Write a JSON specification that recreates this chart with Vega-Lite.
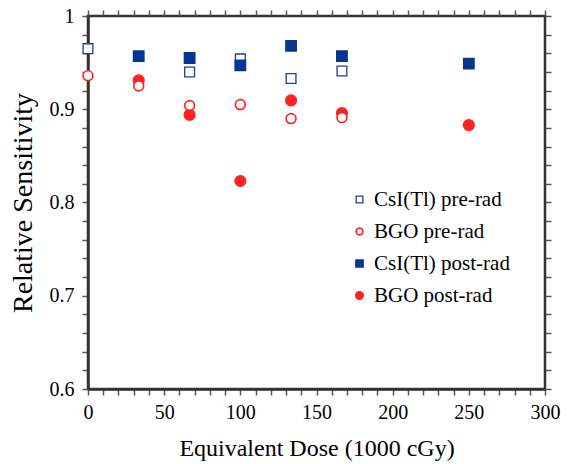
{
  "$schema": "https://vega.github.io/schema/vega-lite/v6.json",
  "width": 457,
  "height": 373,
  "autosize": "none",
  "padding": {"left": 88, "top": 16, "right": 25, "bottom": 75},
  "background": "white",
  "config": {
    "font": "Liberation Serif",
    "view": {"stroke": "#333333", "strokeWidth": 2.5},
    "axis": {
      "zindex": 1,
      "domainColor": "#333333",
      "domainWidth": 2.5,
      "tickColor": "#555555",
      "tickWidth": 1.5,
      "tickSize": 6,
      "grid": false,
      "labelFont": "Liberation Serif",
      "labelFontSize": 20,
      "labelColor": "black",
      "labelFlush": false,
      "labelOverlap": false,
      "titleFont": "Liberation Serif",
      "titleFontWeight": "normal",
      "titleColor": "black"
    }
  },
  "data": {
    "values": [
      {"dose": 0, "sens": 0.965, "series": "CsI(Tl) pre-rad"},
      {"dose": 66.7, "sens": 0.940, "series": "CsI(Tl) pre-rad"},
      {"dose": 100, "sens": 0.954, "series": "CsI(Tl) pre-rad"},
      {"dose": 133.3, "sens": 0.933, "series": "CsI(Tl) pre-rad"},
      {"dose": 166.7, "sens": 0.941, "series": "CsI(Tl) pre-rad"},
      {"dose": 33.3, "sens": 0.931, "series": "BGO post-rad"},
      {"dose": 66.7, "sens": 0.894, "series": "BGO post-rad"},
      {"dose": 100, "sens": 0.823, "series": "BGO post-rad"},
      {"dose": 133.3, "sens": 0.9095, "series": "BGO post-rad"},
      {"dose": 166.7, "sens": 0.896, "series": "BGO post-rad"},
      {"dose": 250, "sens": 0.883, "series": "BGO post-rad"},
      {"dose": 0, "sens": 0.936, "series": "BGO pre-rad"},
      {"dose": 33.3, "sens": 0.925, "series": "BGO pre-rad"},
      {"dose": 66.7, "sens": 0.904, "series": "BGO pre-rad"},
      {"dose": 100, "sens": 0.905, "series": "BGO pre-rad"},
      {"dose": 133.3, "sens": 0.890, "series": "BGO pre-rad"},
      {"dose": 166.7, "sens": 0.891, "series": "BGO pre-rad"},
      {"dose": 33.3, "sens": 0.957, "series": "CsI(Tl) post-rad"},
      {"dose": 66.7, "sens": 0.955, "series": "CsI(Tl) post-rad"},
      {"dose": 100, "sens": 0.947, "series": "CsI(Tl) post-rad"},
      {"dose": 133.3, "sens": 0.968, "series": "CsI(Tl) post-rad"},
      {"dose": 166.7, "sens": 0.957, "series": "CsI(Tl) post-rad"},
      {"dose": 250, "sens": 0.949, "series": "CsI(Tl) post-rad"}
    ]
  },
  "layer": [
    {
      "mark": {"type": "point", "size": 96, "opacity": 1},
      "encoding": {
        "x": {
          "field": "dose",
          "type": "quantitative",
          "scale": {"domain": [0, 300], "nice": false, "zero": false},
          "axis": {
            "orient": "bottom",
            "title": "Equivalent Dose (1000 cGy)",
            "titleFontSize": 24,
            "titlePadding": 14,
            "labelPadding": 7,
            "values": [0, 10, 20, 30, 40, 50, 60, 70, 80, 90, 100, 110, 120, 130, 140, 150, 160, 170, 180, 190, 200, 210, 220, 230, 240, 250, 260, 270, 280, 290, 300],
            "labelExpr": "datum.value % 50 === 0 ? datum.label : ''"
          }
        },
        "y": {
          "field": "sens",
          "type": "quantitative",
          "scale": {"domain": [0.6, 1], "nice": false, "zero": false},
          "axis": {
            "orient": "left",
            "title": "Relative Sensitivity",
            "titleFontSize": 28,
            "titlePadding": 12,
            "labelPadding": 8,
            "format": "~g",
            "values": [0.6, 0.62, 0.64, 0.66, 0.68, 0.7, 0.72, 0.74, 0.76, 0.78, 0.8, 0.82, 0.84, 0.86, 0.88, 0.9, 0.92, 0.94, 0.96, 0.98, 1],
            "labelExpr": "round(datum.value * 100) % 10 === 0 ? datum.label : ''"
          }
        },
        "shape": {
          "field": "series",
          "type": "nominal",
          "scale": {
            "domain": ["CsI(Tl) pre-rad", "BGO pre-rad", "CsI(Tl) post-rad", "BGO post-rad"],
            "range": ["square", "circle", "square", "circle"]
          },
          "legend": {
            "title": null,
            "orient": "none",
            "legendX": 261,
            "legendY": 173,
            "padding": 0,
            "labelFont": "Liberation Serif",
            "labelFontSize": 21,
            "labelColor": "black",
            "labelBaseline": "middle",
            "labelOffset": 4,
            "symbolSize": 45,
            "rowPadding": 10
          }
        },
        "color": {
          "field": "series",
          "type": "nominal",
          "scale": {
            "domain": ["CsI(Tl) pre-rad", "BGO pre-rad", "CsI(Tl) post-rad", "BGO post-rad"],
            "range": ["#1f3d99", "#ff2222", "#063592", "#ff2222"]
          }
        },
        "fill": {
          "field": "series",
          "type": "nominal",
          "scale": {
            "domain": ["CsI(Tl) pre-rad", "BGO pre-rad", "CsI(Tl) post-rad", "BGO post-rad"],
            "range": ["white", "white", "#063592", "#ff2222"]
          }
        },
        "strokeWidth": {
          "field": "series",
          "type": "nominal",
          "scale": {
            "domain": ["CsI(Tl) pre-rad", "BGO pre-rad", "CsI(Tl) post-rad", "BGO post-rad"],
            "range": [1.3, 2.4, 1, 1]
          }
        }
      }
    },
    {
      "mark": {"type": "point", "opacity": 0},
      "encoding": {
        "x": {
          "field": "dose",
          "type": "quantitative",
          "axis": {
            "orient": "top",
            "title": null,
            "labels": false,
            "domain": false,
            "values": [0, 10, 20, 30, 40, 50, 60, 70, 80, 90, 100, 110, 120, 130, 140, 150, 160, 170, 180, 190, 200, 210, 220, 230, 240, 250, 260, 270, 280, 290, 300]
          }
        },
        "y": {
          "field": "sens",
          "type": "quantitative",
          "axis": {
            "orient": "right",
            "title": null,
            "labels": false,
            "domain": false,
            "values": [0.6, 0.62, 0.64, 0.66, 0.68, 0.7, 0.72, 0.74, 0.76, 0.78, 0.8, 0.82, 0.84, 0.86, 0.88, 0.9, 0.92, 0.94, 0.96, 0.98, 1]
          }
        }
      }
    }
  ],
  "resolve": {"axis": {"x": "independent", "y": "independent"}}
}
